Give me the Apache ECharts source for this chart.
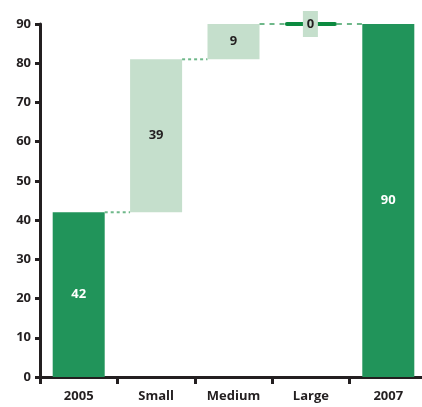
<!DOCTYPE html>
<html><head><meta charset="utf-8">
<script src="https://cdn.jsdelivr.net/npm/echarts@6/dist/echarts.min.js"></script>
<style>html,body{margin:0;padding:0;background:#fff}#c{width:422px;height:407px}</style>
</head><body><div id="c"></div>
<script>
var categories = ['2005', 'Small', 'Medium', 'Large', '2007'];
var values = [42, 39, 9, 0, 90];
var kinds = ['total', 'delta', 'delta', 'delta', 'total'];
var yTicks = [0, 10, 20, 30, 40, 50, 60, 70, 80, 90];

// build [index, start, end, kindFlag, value] rows
var rows = [];
var run = 0;
for (var i = 0; i < values.length; i++) {
  var s, e;
  if (kinds[i] === 'total') { s = 0; e = values[i]; run = values[i]; }
  else { s = run; e = run + values[i]; run = e; }
  rows.push([i, s, e, kinds[i] === 'total' ? 1 : 0, values[i]]);
}

var DARK = '#21945a', LIGHT = '#c5dfcc', LINE = '#0b8a3f', CONN = '#6fb88a';
var font = 'bold 13px "Open Sans"';

function renderItem(params, api) {
  var idx = api.value(0), s = api.value(1), e = api.value(2), isTotal = api.value(3), v = api.value(4);
  var band = api.size([1, 0])[0];
  var w = band * 0.672;
  var p0 = api.coord([idx, s]), p1 = api.coord([idx, e]);
  var cx = p0[0];
  var children = [];
  var top = Math.min(p0[1], p1[1]), h = Math.abs(p0[1] - p1[1]);
  if (h > 0.5) {
    children.push({type: 'rect', shape: {x: cx - w / 2, y: top, width: w, height: h},
      style: {fill: isTotal ? DARK : LIGHT}});
    children.push({type: 'text', style: {text: String(v), x: cx, y: top + h / 2, align: 'center', verticalAlign: 'middle',
      fill: isTotal ? '#ffffff' : '#231f20', font: font}});
  } else {
    children.push({type: 'line', shape: {x1: cx - w / 2 + 2, y1: p1[1], x2: cx + w / 2 - 2, y2: p1[1]},
      style: {stroke: LINE, lineWidth: 4, lineCap: 'round'}});
    children.push({type: 'rect', shape: {x: cx - 8, y: p1[1] - 13, width: 15, height: 26}, style: {fill: LIGHT}});
    children.push({type: 'text', style: {text: String(v), x: cx - 0.5, y: p1[1], align: 'center', verticalAlign: 'middle',
      fill: '#231f20', font: font}});
  }
  if (idx < rows.length - 1) {
    var y = p1[1];
    var nx = api.coord([idx + 1, e])[0];
    var dash = e >= 90 ? [5, 5] : [3, 3];
    children.push({type: 'line', shape: {x1: cx + w / 2, y1: y, x2: nx - w / 2, y2: y},
      style: {stroke: CONN, lineWidth: 2, lineDash: dash}});
  }
  return {type: 'group', children: children};
}

var chart = echarts.init(document.getElementById('c'), null, {renderer: 'canvas'});
chart.setOption({
  animation: false,
  grid: {left: 40, width: 387, top: 24, bottom: 30, containLabel: false, outerBoundsMode: 'none'},
  xAxis: {
    type: 'category', data: categories,
    axisLine: {show: true, lineStyle: {color: '#231f20', width: 3}},
    axisTick: {show: true, alignWithLabel: false, length: 7, lineStyle: {color: '#231f20', width: 3}},
    axisLabel: {color: '#231f20', fontFamily: 'Open Sans', fontWeight: 'bold', fontSize: 13, margin: 13}
  },
  yAxis: {
    type: 'value', min: 0, max: 90, interval: 10,
    axisLine: {show: true, lineStyle: {color: '#231f20', width: 3}},
    axisTick: {show: true, length: 5, lineStyle: {color: '#231f20', width: 3}},
    axisLabel: {color: '#231f20', fontFamily: 'Open Sans', fontWeight: 'bold', fontSize: 13, margin: 9,
      formatter: function (val) { return yTicks.indexOf(val) >= 0 ? String(val) : ''; }},
    splitLine: {show: false}
  },
  series: [{
    type: 'custom', renderItem: renderItem, data: rows,
    encode: {x: 0, y: [1, 2]}, clip: false
  }]
});
</script></body></html>
